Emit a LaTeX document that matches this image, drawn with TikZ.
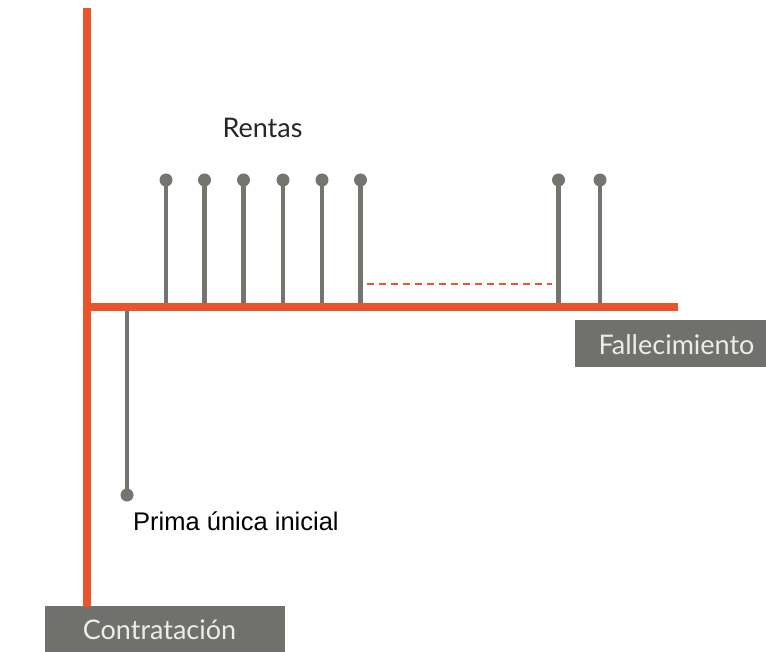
\documentclass[tikz,border=0pt]{standalone}
\usepackage{fontspec}
\setmainfont{Lato}
\newfontfamily\arialfont{Liberation Sans}
\definecolor{axisorange}{RGB}{234,84,44}
\definecolor{stemgray}{RGB}{115,117,111}
\definecolor{boxgray}{RGB}{112,113,108}
\definecolor{boxtext}{RGB}{236,236,234}
\begin{document}
\begin{tikzpicture}[x=1pt,y=-1pt,
  axis/.style={draw=axisorange,line width=8pt},
  stem/.style={draw=stemgray,line width=4.2pt},
  dot/.style={circle,fill=stemgray,inner sep=0pt,minimum size=13pt},
  labelbox/.style={fill=boxgray,inner sep=0pt},
  boxlabel/.style={text=boxtext,font=\fontsize{27}{31}\selectfont,inner sep=0pt},
  dashline/.style={draw=axisorange,line width=1.6pt,dash pattern=on 7pt off 5pt}]
\useasboundingbox (0,0) rectangle (766,652);
% label boxes
\node[labelbox,minimum width=240pt,minimum height=46pt,anchor=north west] (contr) at (45,606) {};
\node[boxlabel] (contrtxt) at (159.5,630) {Contratación};
\node[labelbox,minimum width=191pt,minimum height=47pt,anchor=north west] (fall) at (575,320) {};
\node[boxlabel] (falltxt) at (676.5,345) {Fallecimiento};
% axis coordinates
\coordinate (top) at (86.5,8);
\coordinate (origin) at (86.5,307);
\coordinate (bottom) at (86.5,607);
\coordinate (axend) at (678,307);
% rent stems
\foreach \i/\x in {1/166,2/204.5,3/243.5,4/283,5/322,6/360.5,7/558.5,8/600}{
  \node[dot] (r\i) at (\x,180) {};
  \coordinate (b\i) at (\x,307);
  \draw[stem] (r\i.center) -- (b\i);
}
% prima stem
\coordinate (pb) at (127,307);
\node[dot] (prima) at (127,495) {};
\draw[stem] (pb) -- (prima.center);
% axes
\draw[axis] (top) -- (bottom);
\draw[axis] (origin) -- (axend);
% dashed continuation
\coordinate (d1) at (367,284);
\coordinate (d2) at (552,284);
\draw[dashline] (d1) -- (d2);
% labels
\node[font=\fontsize{27}{31}\selectfont,text=black!85,inner sep=0pt] (rentas) at (262.5,128) {Rentas};
\node[anchor=west,font=\arialfont\fontsize{25.5}{29}\selectfont,text=black,inner sep=0pt] (primatxt) at (133,521) {Prima única inicial};
\end{tikzpicture}
\end{document}
